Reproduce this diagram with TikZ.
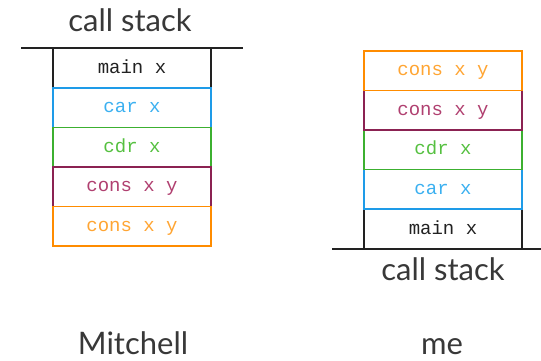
\documentclass[tikz,border=0pt]{standalone}
\usepackage{fontspec}
\setmainfont{Lato}
\setmonofont{Liberation Mono}
\usetikzlibrary{positioning}

\definecolor{inkgray}{HTML}{222222}
\definecolor{carblue}{HTML}{1E9BE8}
\definecolor{cartext}{HTML}{3BB0F0}
\definecolor{cdrgreen}{HTML}{3CB030}
\definecolor{cdrtext}{HTML}{55C040}
\definecolor{conspurple}{HTML}{8B2252}
\definecolor{constext}{HTML}{B04070}
\definecolor{consorange}{HTML}{FF8C00}
\definecolor{conslight}{HTML}{FFA533}

\tikzstyle{frame} = [rectangle, draw=inkgray, line width=1.5pt, outer sep=0pt, minimum width=158pt, minimum height=39.6pt, inner sep=0pt, text height=12pt, text depth=2pt, font=\ttfamily\fontsize{19}{19}\selectfont, text=inkgray]
\tikzstyle{car} = [frame, draw=carblue, text=cartext]
\tikzstyle{cdr} = [frame, draw=cdrgreen, text=cdrtext]
\tikzstyle{consA} = [frame, draw=conspurple, text=constext]
\tikzstyle{consB} = [frame, draw=consorange, text=conslight]
\tikzstyle{caption} = [anchor=base, inner sep=1pt, text depth=0pt, font=\fontsize{31}{31}\selectfont, text=inkgray!90]
\tikzstyle{floor} = [line width=1.5pt, draw=inkgray]

\begin{document}
\begin{tikzpicture}[x=1pt, y=-1pt]
\useasboundingbox (0,0) rectangle (541,360);

% stack growing downwards
\node (mainL) [frame] at (132,68) {main x};
\node (carL) [car, below=0pt of mainL] {car x};
\node (cdrL) [cdr, below=0pt of carL] {cdr x};
\node (consL) [consA, below=0pt of cdrL] {cons x y};
\node (consLL) [consB, below=0pt of consL] {cons x y};
\draw [floor] ([xshift=-32pt]mainL.north west) -- ([xshift=32pt]mainL.north east);
\node (stackL) [caption] at (130,31) {call stack};
\node (whoL) [caption] at (133,354) {Mitchell};

% stack growing upwards
\node (mainR) [frame] at (443,229) {main x};
\node (carR) [car, above=0pt of mainR] {car x};
\node (cdrR) [cdr, above=0pt of carR] {cdr x};
\node (consR) [consA, above=0pt of cdrR] {cons x y};
\node (consRR) [consB, above=0pt of consR] {cons x y};
\draw [floor] ([xshift=-32pt]mainR.south west) -- ([xshift=20pt]mainR.south east);
\node (stackR) [caption] at (443,280) {call stack};
\node (whoR) [caption] at (442,354) {me};
\end{tikzpicture}
\end{document}
